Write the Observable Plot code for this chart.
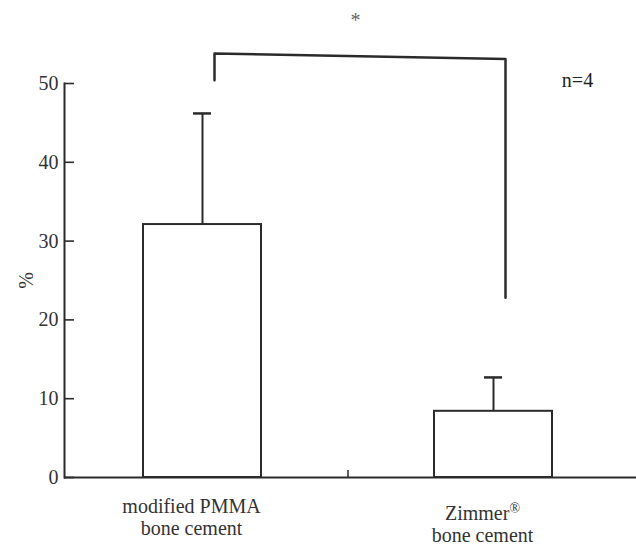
<!DOCTYPE html>
<html>
<head>
<meta charset="utf-8">
<script src="https://cdn.jsdelivr.net/npm/d3@7"></script>
<script src="https://cdn.jsdelivr.net/npm/@observablehq/plot@0.6"></script>
<style>
  html, body { margin: 0; padding: 0; background: #fff; }
  #chart { width: 636px; height: 547px; }
</style>
</head>
<body>
<div id="chart"></div>
<script>
// ---- data ----
const categories = ["modified PMMA", "Zimmer®"];
const categoryLabels = ["modified PMMA\nbone cement", "Zimmer®\nbone cement"];
const labelOffsets = [20, 27];           // vertical offset of each category label (scan skew)
const means = [32.1, 8.4];
const errors = [14.1, 4.3];
const yTicks = [0, 10, 20, 30, 40, 50];
const bracketCats = [categories[0], categories[0], categories[1], categories[1]];
const bracketYs = [50.4, 53.8, 53.1, 22.8];
const sigText = "*";
const sigY = 58.0;
const nText = "n=4";
const nY = 50.4;
const yLabel = "%";

// ---- tables built from arrays ----
const bars = categories.map((c, i) => ({cat: c, value: means[i], err: errors[i], label: categoryLabels[i]}));
const bracket = bracketCats.map((c, i) => ({cat: c, y: bracketYs[i]}));

const ink = "#2b2b2b";
const font = "'Liberation Serif', 'Times New Roman', serif";

const labelMarks = bars.map((b, i) =>
  Plot.text([b], {x: "cat", y: 0, text: "label", dx: -11, dy: labelOffsets[i], lineAnchor: "top",
                  lineHeight: 1.1, fontSize: 20, fill: "#333"})
);

const chart = Plot.plot({
  width: 636,
  height: 547,
  marginLeft: 64,
  marginRight: 0,
  marginTop: 83,
  marginBottom: 70,
  style: {fontFamily: font, fontSize: "20px", color: "#333", background: "#fff"},
  x: {domain: categories, paddingInner: 0.5945, paddingOuter: 0.28, align: 0.485, axis: null},
  y: {domain: [0, 50], axis: null},
  marks: [
    Plot.frame({anchor: "left", stroke: ink, strokeWidth: 2}),
    Plot.ruleY([0], {stroke: ink, strokeWidth: 2}),
    Plot.ruleY(yTicks, {stroke: ink, strokeWidth: 1.6, insetRight: 572 - 10}),
    Plot.axisY({ticks: yTicks, tickSize: 0, tickPadding: 6, fontSize: 20, label: yLabel,
                labelAnchor: "center", labelOffset: 46, labelArrow: false, fill: "#333"}),
    Plot.barY(bars, {x: "cat", y: "value", fill: "#fff", stroke: ink, strokeWidth: 2}),
    Plot.ruleX(bars, {x: "cat", y1: "value", y2: d => d.value + d.err, stroke: ink, strokeWidth: 2}),
    Plot.tickY(bars, {x: "cat", y: d => d.value + d.err, stroke: ink, strokeWidth: 2.5, insetLeft: 50, insetRight: 50}),
    Plot.ruleX([categories[0]], {y1: 0, y2: 0.9, dx: 145.5, stroke: ink, strokeWidth: 1.5}),
    Plot.line(bracket, {x: "cat", y: "y", dx: 12, stroke: ink, strokeWidth: 2.5}),
    Plot.text([{t: sigText, y: sigY}], {text: "t", y: "y", dx: 5, fontSize: 20, fill: "#666"}),
    Plot.text([{t: nText, cat: categories[1], y: nY}], {x: "cat", y: "y", text: "t", dx: 84, fontSize: 20, fill: "#222"}),
    ...labelMarks
  ]
});

// superscript the registered mark
chart.querySelectorAll("tspan").forEach(ts => {
  if (ts.textContent === "Zimmer®") {
    ts.textContent = "Zimmer";
    const sup = document.createElementNS("http://www.w3.org/2000/svg", "tspan");
    sup.textContent = "®";
    sup.setAttribute("font-size", "14");
    sup.setAttribute("baseline-shift", "super");
    ts.appendChild(sup);
  }
});

document.getElementById("chart").appendChild(chart);
</script>
</body>
</html>
